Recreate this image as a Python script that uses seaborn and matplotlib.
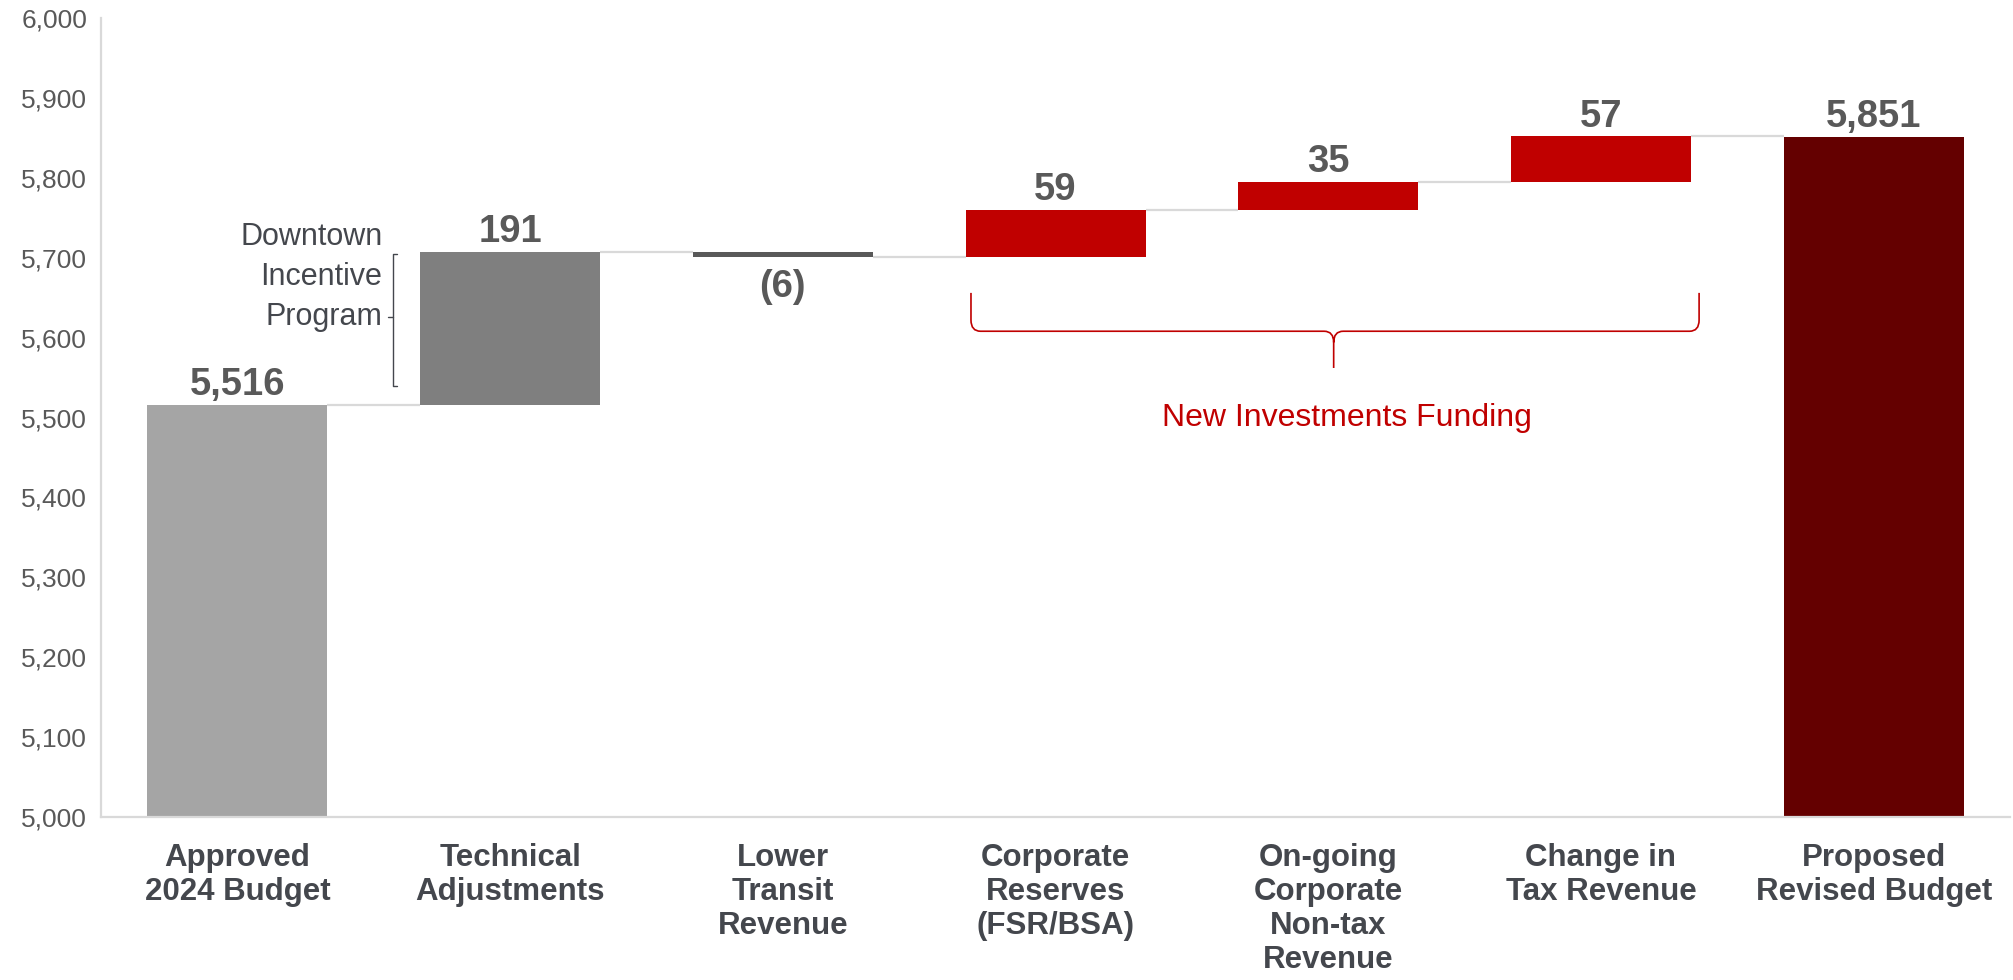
import numpy as np
import matplotlib
matplotlib.use("Agg")
import matplotlib.pyplot as plt
from matplotlib.path import Path
from matplotlib.patches import PathPatch
import seaborn as sns

# ---------------- data ----------------
categories = ["Approved\n2024 Budget", "Technical\nAdjustments", "Lower\nTransit\nRevenue",
              "Corporate\nReserves\n(FSR/BSA)", "On-going\nCorporate\nNon-tax\nRevenue",
              "Change in\nTax Revenue", "Proposed\nRevised Budget"]
values = [5516, 191, -6, 59, 35, 57, 5851]
kinds = ["total", "delta", "delta", "delta", "delta", "delta", "total"]
value_labels = ["5,516", "191", "(6)", "59", "35", "57", "5,851"]
bar_colors = ["#A5A5A5", "#7F7F7F", "#595959", "#C00000", "#C00000", "#C00000", "#640000"]
y_ticks = [5000, 5100, 5200, 5300, 5400, 5500, 5600, 5700, 5800, 5900, 6000]
note_text = "Downtown\nIncentive\nProgram"
brace_text = "New Investments Funding"

# ---------------- waterfall geometry from data ----------------
bottoms, heights, tops = [], [], []
running = 0
for v, k in zip(values, kinds):
    if k == "total":
        bottoms.append(0); heights.append(v); running = v
    else:
        bottoms.append(running); heights.append(v); running += v
    tops.append(bottoms[-1] + heights[-1])

sns.set_style("white")
plt.rcParams["font.family"] = ["Liberation Sans", "DejaVu Sans"]

fig = plt.figure(figsize=(20.13, 9.8), dpi=100)
ax = fig.add_axes([0.0502, 0.1663, 0.9483, 0.8153])

W = 0.66
sns.barplot(x=categories, y=heights, hue=categories, palette=bar_colors, legend=False,
            width=W, saturation=1, ax=ax, order=categories, hue_order=categories)

patches = sorted(ax.patches, key=lambda p: p.get_x())
for p, b, h in zip(patches, bottoms, heights):
    p.set_y(b)
    p.set_height(h)
    p.set_linewidth(0)

ax.set_xlim(-0.5, 6.5)
ax.set_ylim(5000, 6000)
ax.set_yticks(y_ticks)
ax.set_yticklabels([f"{t:,}" for t in y_ticks], fontsize=19, color="#595959")
ax.set_xticks(range(len(categories)))
ax.set_xticklabels(categories, fontsize=22.5, fontweight="bold", color="#44474D", linespacing=1.17)
ax.tick_params(axis="both", length=0)
ax.tick_params(axis="y", pad=10)
ax.tick_params(axis="x", pad=19)
ax.set_xlabel("")
ax.set_ylabel("")
for s in ["top", "right"]:
    ax.spines[s].set_visible(False)
for s in ["left", "bottom"]:
    ax.spines[s].set_color("#D9D9D9")
    ax.spines[s].set_linewidth(1.6)

# connectors
for i in range(len(values) - 1):
    ax.plot([i + W / 2, i + 1 - W / 2], [tops[i], tops[i]], color="#D9D9D9", lw=1.6,
            solid_capstyle="butt", zorder=1)

# value labels
for i, (lab, h) in enumerate(zip(value_labels, heights)):
    if h >= 0:
        ax.annotate(lab, (i, tops[i]), xytext=(0, 7), textcoords="offset points",
                    ha="center", va="baseline", fontsize=27.5, fontweight="bold", color="#595959")
    else:
        ax.annotate(lab, (i, tops[i]), xytext=(0, -9), textcoords="offset points",
                    ha="center", va="top", fontsize=27.5, fontweight="bold", color="#595959")

# Downtown Incentive Program bracket
bx, by0, by1, bym = 0.572, 5540, 5705, 5626
ax.plot([bx + 0.015, bx, bx, bx + 0.015], [by1, by1, by0, by0], color="#44474D", lw=1.0)
ax.plot([bx - 0.02, bx], [bym, bym], color="#44474D", lw=1.0)
ax.text(0.532, 5676, note_text, ha="right", va="center", multialignment="right",
        fontsize=22, color="#44474D", linespacing=1.43)

# New Investments Funding curly brace
x0, x1, xm = 2.69, 5.36, 4.02
yt, ym, ytip = 5656, 5608, 5562
rx, ry = 0.035, 14
verts = [(x0, yt), (x0, ym + ry), (x0, ym), (x0 + rx, ym), (xm - rx, ym), (xm, ym), (xm, ym - ry),
         (xm, ytip),
         (xm, ym - ry), (xm, ym), (xm + rx, ym), (x1 - rx, ym), (x1, ym), (x1, ym + ry), (x1, yt)]
codes = [Path.MOVETO, Path.LINETO, Path.CURVE3, Path.CURVE3, Path.LINETO, Path.CURVE3, Path.CURVE3,
         Path.LINETO,
         Path.MOVETO, Path.CURVE3, Path.CURVE3, Path.LINETO, Path.CURVE3, Path.CURVE3, Path.LINETO]
ax.add_patch(PathPatch(Path(verts, codes), facecolor="none", edgecolor="#C00000", lw=1.2))
ax.text(4.07, 5500, brace_text, ha="center", va="center", fontsize=23, color="#C00000")

fig.savefig("out.png", dpi=100, facecolor="white")
